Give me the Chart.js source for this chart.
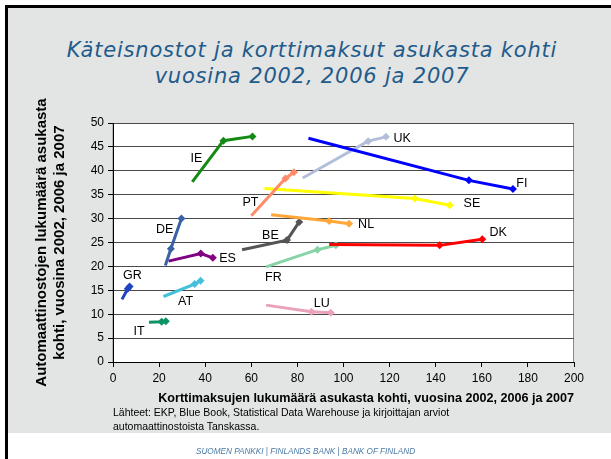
<!DOCTYPE html>
<html>
<head>
<meta charset="utf-8">
<script src="https://cdn.jsdelivr.net/npm/chart.js@4"></script>
<style>
  body { margin: 0; background: #fff; width: 611px; height: 459px; overflow: hidden; position: relative; font-family: "Liberation Sans", Arial, sans-serif; }
  #slide { position: absolute; left: 5px; top: 5px; width: 606px; height: 425px; background: #e3e4e4; border-top: 3px solid #000; }
  #reuna { position: absolute; left: 5px; top: 5px; width: 3px; height: 454px; background: #000; }
  #otsikko { position: absolute; left: 0; top: 37px; width: 624px; text-align: center; font: italic 21px "DejaVu Sans", sans-serif; letter-spacing: 0.8px; line-height: 26px; color: #1f5b8b; }
  #lahteet { position: absolute; left: 113px; top: 405px; font-size: 10.5px; line-height: 14px; color: #000; }
  #alatunniste { position: absolute; left: 0; top: 447px; width: 611px; text-align: center; font: italic 8.2px "Liberation Sans", Arial, sans-serif; color: #4b7aa6; }
  canvas { position: absolute; left: 0; top: 0; }
</style>
</head>
<body>
<div id="slide"></div>
<div id="reuna"></div>
<div id="otsikko">Käteisnostot ja korttimaksut asukasta kohti<br>vuosina 2002, 2006 ja 2007</div>
<canvas id="kaavio" width="611" height="459"></canvas>
<div id="lahteet">Lähteet: EKP, Blue Book, Statistical Data Warehouse ja kirjoittajan arviot<br>automaattinostoista Tanskassa.</div>
<div id="alatunniste">SUOMEN PANKKI | FINLANDS BANK | BANK OF FINLAND</div>

<script>
const maat = ["FI", "UK", "IE", "PT", "SE", "NL", "DE", "BE", "DK", "ES", "FR", "GR", "AT", "LU", "IT"];

// korttimaksut asukasta kohti (x)
const kortti2002 = [84.8, 82.3, 34.4, 60.0, 65.7, 68.6, 22.7, 56.0, 93.8, 24.1, 66.4, 3.9, 21.9, 66.4, 15.6];
const kortti2006 = [154.4, 110.7, 47.9, 74.8, 130.9, 93.8, 25.1, 75.5, 141.7, 38.1, 88.7, 6.4, 35.4, 86.1, 21.1];
const kortti2007 = [173.5, 118.4, 60.5, 78.5, 146.1, 102.4, 29.7, 80.8, 160.2, 43.3, 96.7, 7.2, 38.0, 94.5, 22.9];

// automaattinostot asukasta kohti (y)
const nosto2002 = [46.8, 38.5, 37.7, 30.6, 36.3, 30.8, 20.2, 23.5, 24.6, 21.1, 19.9, 13.1, 13.7, 11.9, 8.3];
const nosto2006 = [38.0, 46.2, 46.3, 38.4, 34.2, 29.5, 23.7, 25.5, 24.4, 22.7, 23.5, 15.3, 16.3, 10.5, 8.4];
const nosto2007 = [36.2, 47.1, 47.2, 39.7, 32.8, 28.9, 30.0, 29.3, 25.7, 21.8, 24.4, 15.8, 17.0, 10.3, 8.5];

// maatunnusten paikat
const nimiX = [177.4, 125.5, 36.2, 59.6, 155.7, 109.8, 22.4, 68.3, 167.1, 49.7, 69.6, 8.4, 31.5, 90.6, 11.3];
const nimiY = [37.3, 46.8, 42.6, 33.4, 33.2, 28.8, 27.7, 26.5, 27.1, 21.7, 17.7, 18.1, 12.6, 12.3, 6.4];

const xTicks = [0, 20, 40, 60, 80, 100, 120, 140, 160, 180, 200];
const yTicks = [0, 5, 10, 15, 20, 25, 30, 35, 40, 45, 50];

const varit = ["#0000ff", "#b3bfda", "#138a13", "#ff8c69", "#ffff00", "#ffa83a", "#3a62a6", "#555555",
  "#ff0000", "#820082", "#86d4a6", "#1f45c4", "#45c0da", "#eaa2bb", "#0d9366"];

const datasets = maat.map((maa, i) => ({
  label: maa,
  data: [
    { x: kortti2002[i], y: nosto2002[i] },
    { x: kortti2006[i], y: nosto2006[i] },
    { x: kortti2007[i], y: nosto2007[i] },
  ],
  showLine: true,
  borderColor: varit[i],
  backgroundColor: varit[i],
  borderWidth: 3,
  pointStyle: "rectRot",
  pointRadius: [0, 4, 4],
  pointBorderWidth: 0,
}));

// DE:n kaksoisviiva 2006-2007
const de = maat.indexOf("DE");
datasets.push({
  label: "DE sisä",
  data: [
    { x: kortti2006[de], y: nosto2006[de] },
    { x: kortti2007[de], y: nosto2007[de] },
  ],
  showLine: true,
  borderColor: "#ffffff",
  borderWidth: 1,
  pointRadius: 0,
});

const piirtoalue = {
  id: "piirtoalue",
  beforeDraw(chart) {
    const { ctx, chartArea: a } = chart;
    ctx.save();
    ctx.fillStyle = "#fff";
    ctx.fillRect(a.left, a.top, a.right - a.left, a.bottom - a.top);
    ctx.strokeStyle = "#8a8a8a";
    ctx.lineWidth = 1;
    ctx.strokeRect(a.left, a.top + 0.5, a.right - a.left - 0.5, a.bottom - a.top);
    ctx.restore();
  },
  afterDatasetsDraw(chart) {
    const { ctx, scales } = chart;
    ctx.save();
    ctx.font = "12.5px 'Liberation Sans', Arial, sans-serif";
    ctx.fillStyle = "#000";
    ctx.textAlign = "center";
    ctx.textBaseline = "middle";
    maat.forEach((maa, i) => {
      ctx.fillText(maa, scales.x.getPixelForValue(nimiX[i]), scales.y.getPixelForValue(nimiY[i]));
    });
    ctx.restore();
  },
};

new Chart(document.getElementById("kaavio"), {
  type: "scatter",
  data: { datasets },
  plugins: [piirtoalue],
  options: {
    responsive: false,
    animation: false,
    layout: { padding: { left: 30, top: 123, right: 37, bottom: 52 } },
    plugins: { legend: { display: false }, tooltip: { enabled: false } },
    scales: {
      x: {
        type: "linear",
        min: 0,
        max: 200,
        afterBuildTicks: (s) => { s.ticks = xTicks.map((v) => ({ value: v })); },
        afterFit: (s) => { s.height = 45; },
        ticks: { color: "#000", padding: 4, font: { size: 12, family: "'Liberation Sans', Arial" } },
        grid: { drawOnChartArea: false, tickLength: 5, tickColor: "#000" },
        border: { color: "#000", width: 1 },
        title: {
          display: true,
          align: "end",
          text: "Korttimaksujen lukumäärä asukasta kohti, vuosina 2002, 2006 ja 2007",
          color: "#000",
          font: { size: 12.6, weight: "bold", family: "'Liberation Sans', Arial" },
          padding: { top: 0, bottom: 1 },
        },
      },
      y: {
        type: "linear",
        min: 0,
        max: 50,
        afterBuildTicks: (s) => { s.ticks = yTicks.map((v) => ({ value: v })); },
        afterFit: (s) => { s.width = 83; },
        ticks: { color: "#000", padding: 4, font: { size: 12, family: "'Liberation Sans', Arial" } },
        grid: { color: "#4a4a4a", tickLength: 5, tickColor: "#000" },
        border: { color: "#000", width: 1 },
        title: {
          display: true,
          text: ["Automaattinostojen lukumäärä asukasta", "kohti, vuosina 2002, 2006 ja 2007"],
          color: "#000",
          font: { size: 15, weight: "bold", lineHeight: 1.2, family: "'Liberation Sans', Arial" },
          padding: { top: 3, bottom: 0 },
        },
      },
    },
  },
});
</script>
</body>
</html>
